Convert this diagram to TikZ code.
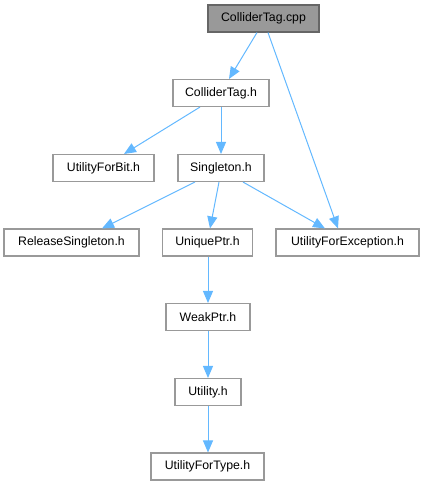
\documentclass[tikz,border=0pt]{standalone}
\usepackage{fontspec}
\setmainfont{Liberation Sans}
\usetikzlibrary{arrows.meta}
\definecolor{edgeblue}{HTML}{63B8FF}
\definecolor{nodeborder}{HTML}{999999}
\definecolor{rootfill}{HTML}{999999}
\definecolor{rootborder}{HTML}{666666}
\begin{document}
\begin{tikzpicture}[x=1pt,y=-1pt,
  file/.style={draw=nodeborder, line width=1.1pt, fill=white, minimum height=27pt, inner sep=0pt, font=\fontsize{12.3}{14}\selectfont},
  root/.style={file, fill=rootfill, draw=rootborder},
  dep/.style={draw=edgeblue, line width=1pt, -{Triangle[length=12pt,width=10pt]}}]
\useasboundingbox (0,0) rectangle (425,485);
\node[root, minimum width=111pt] (cpp) at (263.5,18.5) {ColliderTag.cpp};
\node[file, minimum width=96pt] (ch) at (221,93) {ColliderTag.h};
\node[file, minimum width=101pt] (bit) at (103.5,168) {UtilityForBit.h};
\node[file, minimum width=86pt] (sing) at (221,168) {Singleton.h};
\node[file, minimum width=135pt] (rel) at (71.5,242.5) {ReleaseSingleton.h};
\node[file, minimum width=90pt] (uniq) at (207.5,242.5) {UniquePtr.h};
\node[file, minimum width=143pt] (ufe) at (347.5,242.5) {UtilityForException.h};
\node[file, minimum width=84pt] (weak) at (208,317) {WeakPtr.h};
\node[file, minimum width=66pt] (util) at (208,392) {Utility.h};
\node[file, minimum width=113pt] (uft) at (207.5,466.5) {UtilityForType.h};
\draw[dep] ([xshift=-6.5pt]cpp.south) -- ([xshift=8pt]ch.north);
\draw[dep] ([xshift=4.5pt]cpp.south) -- ([xshift=-9.5pt]ufe.north);
\draw[dep] ([xshift=-21pt]ch.south) -- ([xshift=20.5pt]bit.north);
\draw[dep] (ch.south) -- (sing.north);
\draw[dep] ([xshift=-26pt]sing.south) -- ([xshift=30.5pt]rel.north);
\draw[dep] ([xshift=-2pt]sing.south) -- ([xshift=2.5pt]uniq.north);
\draw[dep] ([xshift=22pt]sing.south) -- ([xshift=-22.5pt]ufe.north);
\draw[dep] ([xshift=0.5pt]uniq.south) -- (weak.north);
\draw[dep] (weak.south) -- (util.north);
\draw[dep] (util.south) -- ([xshift=0.5pt]uft.north);
\end{tikzpicture}
\end{document}
